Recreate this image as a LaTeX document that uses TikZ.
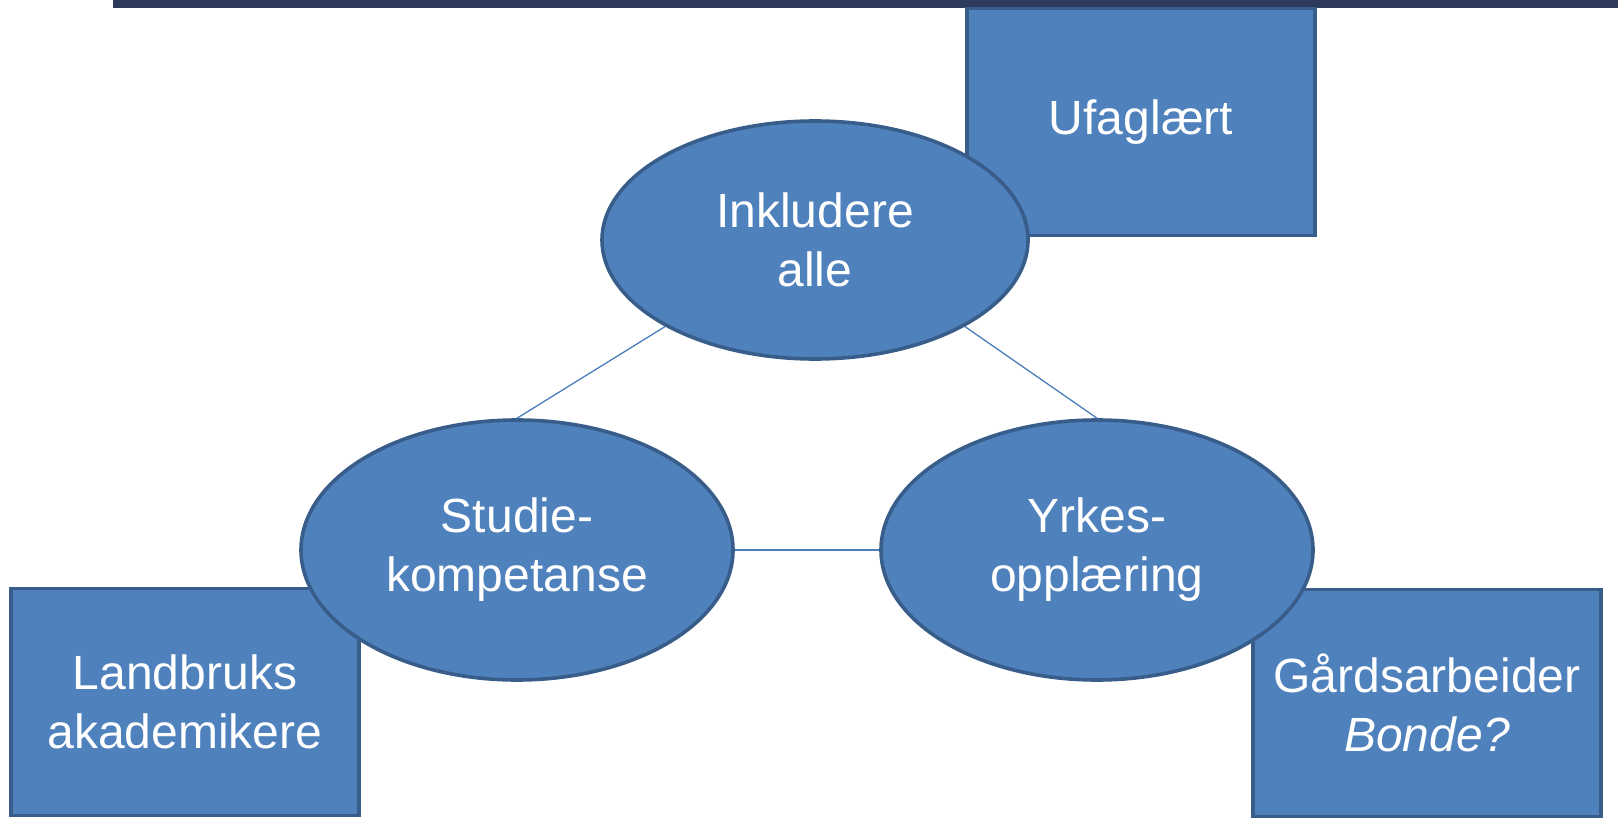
\documentclass[tikz,border=0pt]{standalone}
\usepackage{fontspec}
\setmainfont{Liberation Sans}
\usetikzlibrary{shapes.geometric}
\definecolor{shapefill}{RGB}{79,129,189}
\definecolor{shapeline}{RGB}{56,93,138}
\definecolor{connector}{RGB}{74,126,187}
\definecolor{titlebar}{RGB}{46,58,92}

\begin{document}
\begin{tikzpicture}[x=0.5pt, y=-0.5pt]
            \tikzstyle{every node} = [text=white, align=center, font=\fontsize{24}{29.5}\selectfont]
            \tikzstyle{goal} = [ellipse, draw=shapeline, fill=shapefill, line width=1.8pt, inner sep=0pt]
            \tikzstyle{group} = [rectangle, draw=shapeline, fill=shapefill, line width=1.8pt, inner sep=0pt, minimum width=174pt, minimum height=113.5pt]
            \useasboundingbox (0, 0) rectangle (1618, 819);

            \fill[titlebar] (113, 0) rectangle (1618, 8);

            \node[group] (ufaglaert) at (1141, 122) {Ufaglært};
            \node[group] (akademiker) at (185, 702) {Landbruks\\akademikere};
            \node[group] (gardsarbeider) at (1427, 703) {Gårdsarbeider\\\textit{Bonde?}};

            \node[goal, minimum width=213pt, minimum height=119pt] (inkludere) at (815, 240) {Inkludere\\alle};
            \node[goal, minimum width=216pt, minimum height=130pt] (studie) at (517, 550) {Studie-\\kompetanse};
            \node[goal, minimum width=216pt, minimum height=130pt] (yrkes) at (1097, 550) {Yrkes-\\opplæring};

            \draw[connector, line width=0.65pt] (inkludere.210) -- (studie.north);
            \draw[connector, line width=0.65pt] (inkludere.330) -- (yrkes.north);
            \draw[connector, line width=0.65pt] (studie.east) -- (yrkes.west);
\end{tikzpicture}
\end{document}
